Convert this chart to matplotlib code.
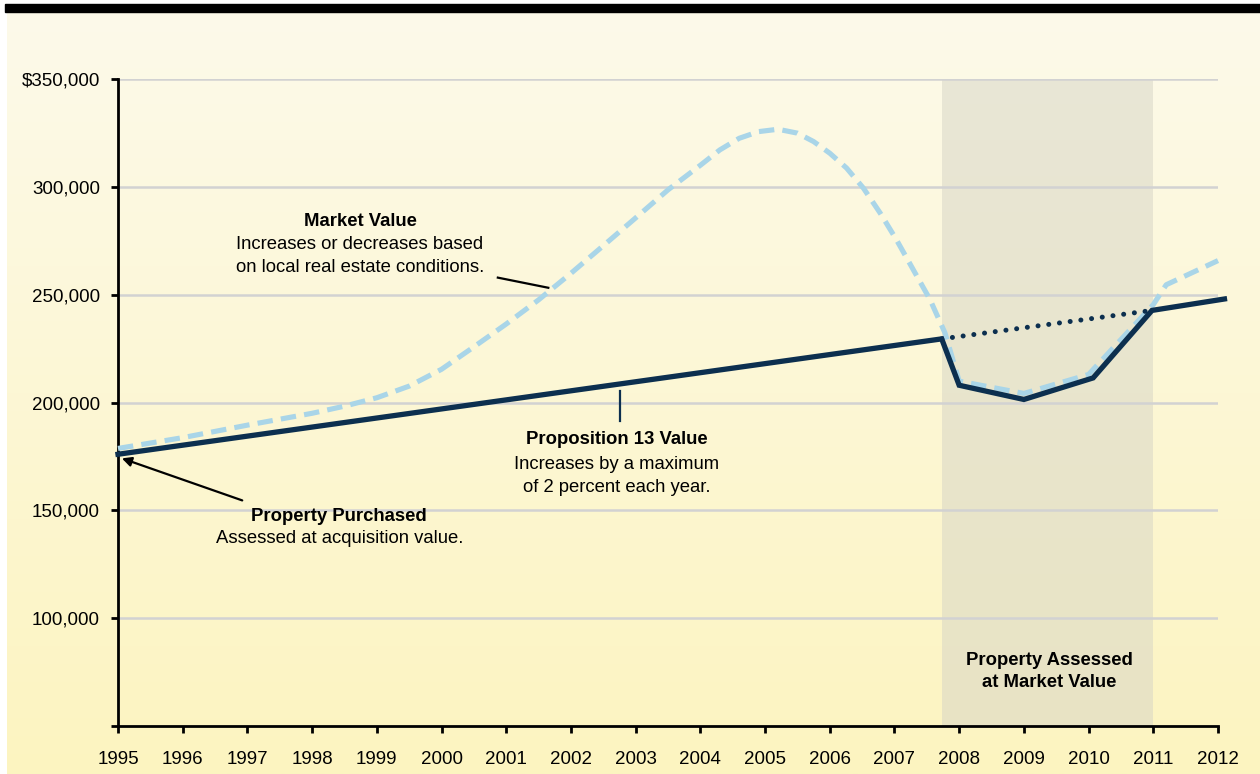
import numpy as np
import matplotlib
matplotlib.use('Agg')
import matplotlib.pyplot as plt
from matplotlib.patches import Rectangle
from matplotlib.ticker import FuncFormatter

plt.rcParams['font.family'] = ['Liberation Sans', 'DejaVu Sans']

# Proposition 13 assessed value
prop13_years = [1995, 2007.73, 2008.0, 2009.0, 2010.07, 2010.98, 2012.1]
prop13_values = [176000, 229500, 208000, 201400, 211400, 242700, 248000]

# what the assessed value would have been without the decline
trend_years = [2007.73, 2010.98]
trend_values = [229500, 242700]

# market value
market_years = [1995, 1996, 1997, 1998, 1998.5, 1999, 1999.5, 2000, 2000.5,
                2001, 2001.5, 2002, 2002.5, 2003, 2003.5, 2004, 2004.3,
                2004.6, 2004.9, 2005.2, 2005.5, 2005.75, 2006, 2006.26,
                2006.52, 2006.78, 2007.03, 2007.29, 2007.55, 2007.78, 2008,
                2009, 2010, 2011, 2011.2, 2011.5, 2012]
market_values = [178700, 183700, 189500, 195000, 198300, 202200, 207600,
                 215400, 225800, 236400, 247600, 259900, 272700, 285600,
                 298600, 310000, 317100, 322500, 325600, 326700, 324900,
                 321000, 315600, 308700, 299400, 287800, 275500, 261600,
                 247700, 232300, 209900, 204200, 213000, 245400, 254600,
                 258800, 265800]

shade_start, shade_end = 2007.73, 2011.0
year_ticks = list(range(1995, 2013))
value_ticks = [50000, 100000, 150000, 200000, 250000, 300000, 350000]

navy = '#0c2f4f'
light_blue = '#a9d5e8'
note_size = 13.3

fig = plt.figure(figsize=(12.6, 7.74), dpi=100)

# cream-to-yellow background panel and black rule at the top
bg = fig.add_axes([7 / 1260, 0, 1 - 7 / 1260, 762 / 774], zorder=-10)
grad = np.linspace(0, 1, 256).reshape(-1, 1)
top_c = np.array([253, 250, 234]) / 255
bot_c = np.array([252, 244, 192]) / 255
img = top_c * (1 - grad[..., None]) + bot_c * grad[..., None]
bg.imshow(img, aspect='auto', extent=[0, 1, 0, 1])
bg.axis('off')
fig.patches.append(Rectangle((5 / 1260, 762 / 774), 1, 8 / 774,
                             transform=fig.transFigure, color='black'))

ax = fig.add_axes([118 / 1260, 48 / 774, 1100 / 1260, 647 / 774])
ax.patch.set_alpha(0)

ax.axvspan(shade_start, shade_end, color='#d6d4c6', alpha=0.5, lw=0, zorder=0)
for v in value_ticks[1:]:
    ax.axhline(v, color='#d2d2d2', lw=1.8, zorder=1)

ax.plot(market_years, market_values, color=light_blue, lw=3.7,
        linestyle=(0, (3.0, 1.6)), zorder=3, clip_on=False)
ax.plot(trend_years, trend_values, color=navy, lw=3.6,
        linestyle=(0, (0.01, 2.15)), dash_capstyle='round', zorder=4)
ax.plot(prop13_years, prop13_values, color=navy, lw=3.8, zorder=5,
        solid_joinstyle='miter', clip_on=False)

ax.set_xlim(1995, 2012)
ax.set_ylim(50000, 350000)
ax.set_xticks(year_ticks)
ax.set_yticks(value_ticks)


def money(v, pos):
    if v == 50000:
        return ''
    if v == 350000:
        return '${:,.0f}'.format(v)
    return '{:,.0f}'.format(v)


ax.yaxis.set_major_formatter(FuncFormatter(money))
ax.tick_params(axis='both', labelsize=13.5, width=2, length=5, color='black')
ax.tick_params(axis='x', pad=13)
ax.tick_params(axis='y', pad=8)
for s in ['top', 'right']:
    ax.spines[s].set_visible(False)
for s in ['left', 'bottom']:
    ax.spines[s].set_linewidth(2)

# annotations
ax.text(1998.74, 283800, 'Market Value', ha='center', va='center',
        fontsize=note_size, fontweight='bold')
ax.text(1998.74, 273100, 'Increases or decreases based', ha='center',
        va='center', fontsize=note_size)
ax.text(1998.74, 262500, 'on local real estate conditions.', ha='center',
        va='center', fontsize=note_size)
ax.plot([2000.87, 2001.65], [257900, 253200], color='black', lw=1.6, zorder=6)

ax.text(2002.71, 182900, 'Proposition 13 Value', ha='center', va='center',
        fontsize=note_size, fontweight='bold')
ax.text(2002.71, 171300, 'Increases by a maximum', ha='center', va='center',
        fontsize=note_size)
ax.text(2002.71, 160600, 'of 2 percent each year.', ha='center', va='center',
        fontsize=note_size)
ax.plot([2002.76, 2002.76], [205500, 191200], color=navy, lw=1.6, zorder=6)

ax.text(1998.42, 147200, 'Property Purchased', ha='center', va='center',
        fontsize=note_size, fontweight='bold')
ax.text(1998.42, 137000, 'Assessed at acquisition value.', ha='center',
        va='center', fontsize=note_size)
ax.annotate('', xy=(1995.06, 174100), xytext=(1996.92, 154600),
            arrowprops=dict(arrowstyle='-|>', color='black', lw=1.6,
                            mutation_scale=14, shrinkA=0, shrinkB=0))

ax.text(2009.39, 80200, 'Property Assessed', ha='center', va='center',
        fontsize=note_size, fontweight='bold')
ax.text(2009.39, 70200, 'at Market Value', ha='center', va='center',
        fontsize=note_size, fontweight='bold')

plt.savefig('out.png', dpi=100)
